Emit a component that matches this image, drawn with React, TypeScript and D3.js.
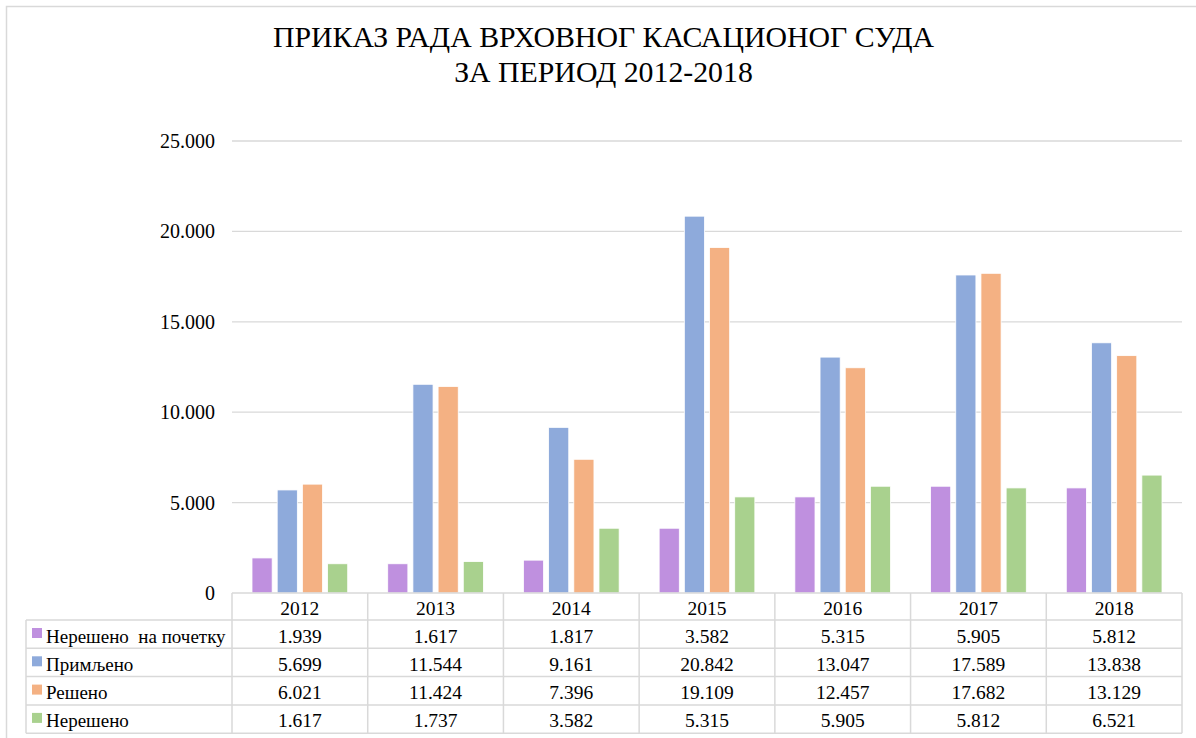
import React, { useRef, useEffect } from 'react';
import * as d3 from 'd3';

const years = ['2012', '2013', '2014', '2015', '2016', '2017', '2018'];
const seriesNames = ['Нерешено  на почетку', 'Примљено', 'Решено', 'Нерешено'];
const seriesColors = ['#BF90DF', '#8EAADB', '#F4B183', '#A9D18E'];
const unresolvedStart = [1939, 1617, 1817, 3582, 5315, 5905, 5812];
const received = [5699, 11544, 9161, 20842, 13047, 17589, 13838];
const resolved = [6021, 11424, 7396, 19109, 12457, 17682, 13129];
const unresolvedEnd = [1617, 1737, 3582, 5315, 5905, 5812, 6521];
const yTicks = [0, 5000, 10000, 15000, 20000, 25000];
const titleLines = ['ПРИКАЗ РАДА ВРХОВНОГ КАСАЦИОНОГ СУДА', 'ЗА ПЕРИОД 2012-2018'];

const values = [unresolvedStart, received, resolved, unresolvedEnd];

// Serbian style thousands separator: 25.000
const fmt = (v: number) => (v === 0 ? '0' : d3.format(',')(v).replace(/,/g, '.'));

function App() {
  const svgRef = useRef<SVGSVGElement>(null);
  const width = 1196;
  const height = 738;

  useEffect(() => {
    const svg = d3.select(svgRef.current);
    svg.selectAll('*').remove();

    const gridColor = '#d9d9d9';

    // Outer chart border
    svg.append('rect')
      .attr('x', 6.5).attr('y', 6.5)
      .attr('width', 1200).attr('height', 760)
      .attr('fill', '#fff')
      .attr('stroke', gridColor)
      .attr('stroke-width', 1.5);

    // Title
    svg.append('g').selectAll('text')
      .data(titleLines)
      .enter()
      .append('text')
      .attr('x', 603.5)
      .attr('y', (d, i) => 47 + i * 35)
      .attr('text-anchor', 'middle')
      .attr('font-size', 29.8)
      .attr('fill', '#000')
      .text(d => d);

    const plotLeft = 232;
    const plotRight = 1182;
    const plotTop = 141;
    const plotBottom = 593;

    const x0 = d3.scaleBand<string>()
      .domain(years)
      .range([plotLeft, plotRight])
      .paddingInner(0)
      .paddingOuter(0);

    const bw = x0.bandwidth();
    const x1 = d3.scaleBand<string>()
      .domain(seriesNames)
      .range([20, bw - 20])
      .paddingInner(0.2)
      .paddingOuter(0);

    const y = d3.scaleLinear()
      .domain([0, 25000])
      .range([plotBottom, plotTop]);

    // Gridlines
    svg.append('g').selectAll('line')
      .data(yTicks.filter(t => t > 0))
      .enter()
      .append('line')
      .attr('x1', plotLeft).attr('x2', plotRight)
      .attr('y1', d => y(d)).attr('y2', d => y(d))
      .attr('stroke', gridColor)
      .attr('stroke-width', 1.3);

    // Y tick labels
    svg.append('g').selectAll('text')
      .data(yTicks)
      .enter()
      .append('text')
      .attr('x', 215)
      .attr('y', d => y(d) + 7)
      .attr('text-anchor', 'end')
      .attr('font-size', 20)
      .attr('fill', '#000')
      .text(d => fmt(d));

    // Bars
    const groups = svg.append('g').selectAll('g')
      .data(years)
      .enter()
      .append('g')
      .attr('transform', d => `translate(${x0(d)},0)`);

    groups.selectAll('rect')
      .data((d, i) => seriesNames.map((s, k) => ({ s, k, v: values[k][i] })))
      .enter()
      .append('rect')
      .attr('x', d => x1(d.s) as number)
      .attr('y', d => y(d.v))
      .attr('width', x1.bandwidth())
      .attr('height', d => plotBottom - y(d.v))
      .attr('fill', d => seriesColors[d.k])
      .attr('stroke', '#fff')
      .attr('stroke-width', 0.8);

    // Data table
    const rowH = 28.3;
    const tableLeft = 26;
    const rowsTop = plotBottom + 27;
    const tableBottom = rowsTop + rowH * seriesNames.length;
    const table = svg.append('g');

    // horizontal lines
    table.append('line')
      .attr('x1', plotLeft).attr('x2', plotRight)
      .attr('y1', plotBottom).attr('y2', plotBottom)
      .attr('stroke', gridColor).attr('stroke-width', 1.5);

    table.selectAll('.hrow')
      .data(d3.range(seriesNames.length + 1))
      .enter()
      .append('line')
      .attr('class', 'hrow')
      .attr('x1', tableLeft).attr('x2', plotRight)
      .attr('y1', i => rowsTop + i * rowH).attr('y2', i => rowsTop + i * rowH)
      .attr('stroke', gridColor).attr('stroke-width', 1.5);

    // vertical lines
    table.append('line')
      .attr('x1', tableLeft).attr('x2', tableLeft)
      .attr('y1', rowsTop).attr('y2', tableBottom)
      .attr('stroke', gridColor).attr('stroke-width', 1.5);

    table.selectAll('.vcol')
      .data([...years.map(yr => x0(yr) as number), plotRight])
      .enter()
      .append('line')
      .attr('class', 'vcol')
      .attr('x1', d => d).attr('x2', d => d)
      .attr('y1', plotBottom).attr('y2', tableBottom)
      .attr('stroke', gridColor).attr('stroke-width', 1.5);

    // year header
    table.selectAll('.year')
      .data(years)
      .enter()
      .append('text')
      .attr('class', 'year')
      .attr('x', d => (x0(d) as number) + bw / 2)
      .attr('y', plotBottom + 21.5)
      .attr('text-anchor', 'middle')
      .attr('font-size', 19.5)
      .text(d => d);

    // legend cells
    seriesNames.forEach((s, k) => {
      const ry = rowsTop + k * rowH;
      table.append('rect')
        .attr('x', 32).attr('y', ry + 8)
        .attr('width', 10).attr('height', 10)
        .attr('fill', seriesColors[k]);
      table.append('text')
        .attr('x', 46)
        .attr('y', ry + 22.5)
        .attr('font-size', 19)
        .style('white-space', 'pre')
        .text(s);

      table.selectAll(`.val${k}`)
        .data(values[k])
        .enter()
        .append('text')
        .attr('class', `val${k}`)
        .attr('x', (d, i) => (x0(years[i]) as number) + bw / 2)
        .attr('y', ry + 22.5)
        .attr('text-anchor', 'middle')
        .attr('font-size', 19.5)
        .text(d => fmt(d));
    });
  }, []);

  return (
    <svg
      ref={svgRef}
      width={width}
      height={height}
      fontFamily="'Liberation Serif', 'Times New Roman', serif"
      style={{ position: 'absolute', left: 0, top: 0, background: '#fff' }}
    ></svg>
  );
}

export default App;
